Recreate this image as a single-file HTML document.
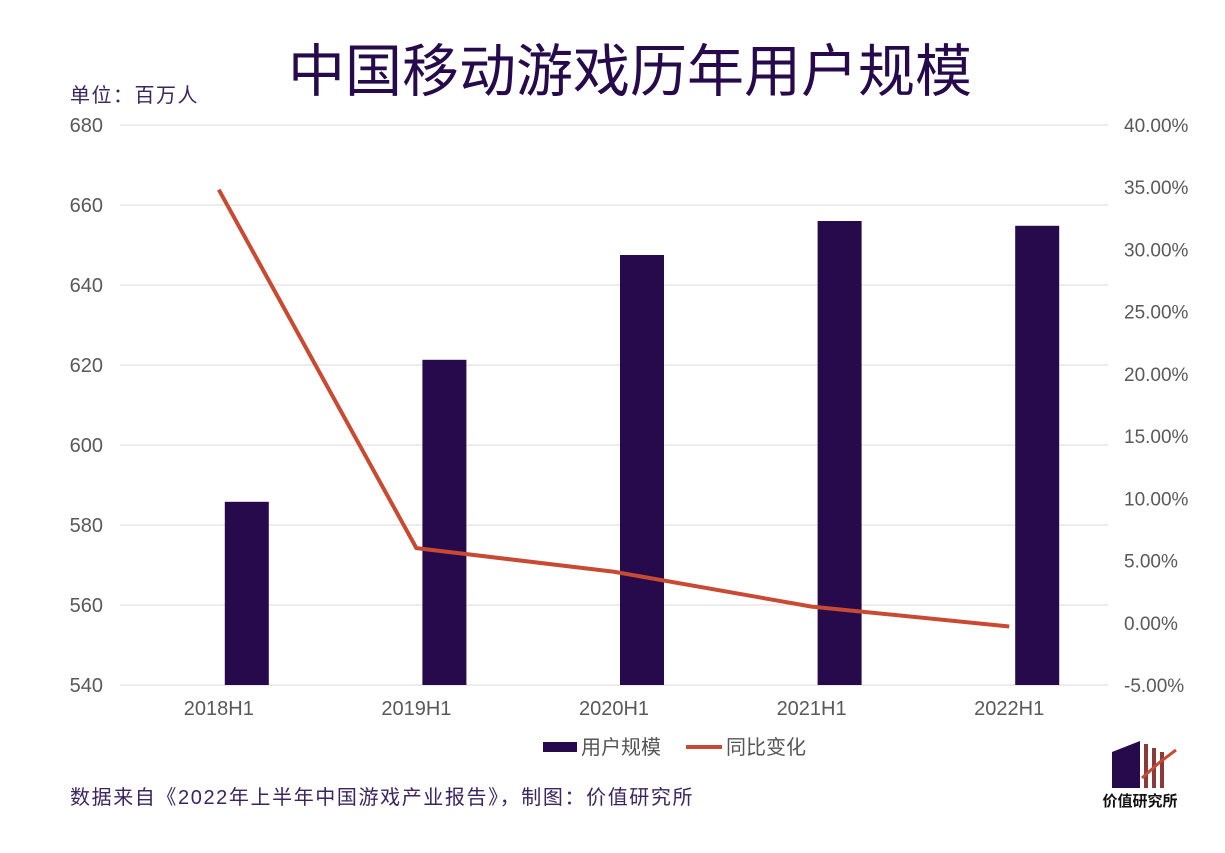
<!DOCTYPE html>
<html><head><meta charset="utf-8">
<style>
body{margin:0;background:#fff;width:1225px;height:848px;overflow:hidden;font-family:"Liberation Sans","Noto Sans CJK SC",sans-serif;}
</style></head>
<body>
<svg id="chart" width="1225" height="848" xmlns="http://www.w3.org/2000/svg" font-family="Liberation Sans, Noto Sans CJK SC, sans-serif">
<text x="630" y="91" text-anchor="middle" font-size="57" fill="#260a4c" font-weight="normal">中国移动游戏历年用户规模</text>
<text x="70" y="102" font-size="20" letter-spacing="1.5" fill="#3b2460">单位：百万人</text>
<g id="grid"></g><g id="bars"></g><g id="line"></g><g id="axes"></g>
<g>
<rect x="543" y="742" width="34" height="10" fill="#260a4c"/>
<text x="581" y="754" font-size="20" fill="#555">用户规模</text>
<line x1="686" y1="747" x2="722" y2="747" stroke="#c84a32" stroke-width="4"/>
<text x="726" y="754" font-size="20" fill="#555">同比变化</text>
</g>
<text x="70" y="804" font-size="20" letter-spacing="1.6" fill="#3b2460">数据来自《2022年上半年中国游戏产业报告》，制图：价值研究所</text>
<g>
<polygon points="1112,752 1140,741 1140,788 1112,788" fill="#260a4c"/>
<rect x="1144" y="744" width="4" height="44" fill="#8b3a3a"/>
<rect x="1152" y="748" width="4" height="40" fill="#8b3a3a"/>
<rect x="1160" y="752" width="4" height="36" fill="#8b3a3a"/>
<polyline points="1142,778 1160,762 1176,750" fill="none" stroke="#c84a32" stroke-width="3"/>
<text x="1140" y="806" text-anchor="middle" font-size="15" font-weight="bold" fill="#111">价值研究所</text>
</g>
</svg>
<script>
const categories=["2018H1","2019H1","2020H1","2021H1","2022H1"];
const users=[585.8,621.3,647.5,656,654.8];
const yoy=[34.8,6.0,4.1,1.3,-0.3];
const leftTicks=[540,560,580,600,620,640,660,680];
const rightTicks=[-5,0,5,10,15,20,25,30,35,40];
const NS="http://www.w3.org/2000/svg";
const X0=120,X1=1108,Y0=685,Y1=125;
const band=(X1-X0)/categories.length;
const xC=i=>X0+band*(i+0.5);
const yL=v=>Y0-(v-540)/(680-540)*(Y0-Y1);
const yR=v=>Y0-(v+5)/45*(Y0-Y1);
function mk(tag,attrs,parent,txt){const e=document.createElementNS(NS,tag);for(const k in attrs)e.setAttribute(k,attrs[k]);if(txt!=null)e.textContent=txt;document.getElementById(parent).appendChild(e);return e;}
leftTicks.forEach(t=>{
 const l=mk("line",{x1:X0,x2:X1,y1:yL(t),y2:yL(t),stroke:"#d9d9d9","stroke-width":1},"grid");
 
 
 const tx=mk("text",{x:103,y:yL(t)+7,"text-anchor":"end","font-size":20,fill:"#595959"},"axes",t);
 
 
});
rightTicks.forEach(t=>{
 const tx=mk("text",{x:1124,y:yR(t)+7,"font-size":19,fill:"#595959"},"axes",t.toFixed(2)+"%");
 
 
});
categories.forEach((c,i)=>{
 const tx=mk("text",{x:xC(i),y:715,"text-anchor":"middle","font-size":20,fill:"#595959"},"axes",c);
 
 
 const b=mk("rect",{x:xC(i)+6,y:yL(users[i]),width:44,height:Y0-yL(users[i]),fill:"#260a4c"},"bars");
 
 
});
const pl=mk("polyline",{points:yoy.map((v,i)=>xC(i)+","+yR(v)).join(" "),fill:"none",stroke:"#c84a32","stroke-width":4,"stroke-linejoin":"round"},"line");


</script>
</body></html>
